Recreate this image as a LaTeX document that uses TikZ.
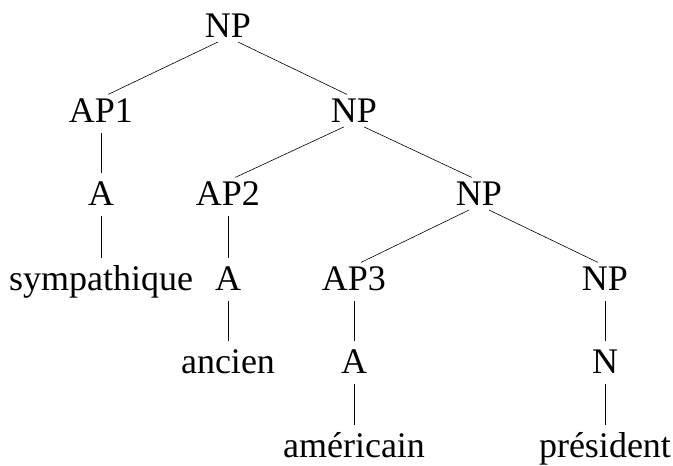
\documentclass[tikz,border=0pt]{standalone}
\usepackage{fontspec}
\setmainfont{Liberation Serif}
\usetikzlibrary{positioning}

\begin{document}
\begin{tikzpicture}[
    x=1pt, y=-1pt,
    cat/.style={anchor=base, inner sep=0pt, text height=24pt, text depth=0pt, font=\fontsize{36}{40}\selectfont},
    branch/.style={line width=0.6pt, shorten <=11pt, shorten >=8pt}
]
\useasboundingbox (0,0) rectangle (673,466);

% tree nodes, one row per level
\node[cat] (np0) at (228,37) {NP};
\node[cat] (ap1) at (101,122) {AP1};
\node[cat] (np1) at (354,122) {NP};
\node[cat] (a1) at (101,205) {A};
\node[cat] (ap2) at (228,205) {AP2};
\node[cat] (np2) at (479,205) {NP};
\node[cat] (sym) at (101,290) {sympathique};
\node[cat] (a2) at (228,290) {A};
\node[cat] (ap3) at (354,290) {AP3};
\node[cat] (np3) at (605,290) {NP};
\node[cat] (anc) at (228,373) {ancien};
\node[cat] (a3) at (354,373) {A};
\node[cat] (n) at (605,373) {N};
\node[cat] (ame) at (354,457) {américain};
\node[cat] (pre) at (605,457) {président};

\draw[branch] (np0.south) -- (ap1.north);
\draw[branch] (np0.south) -- (np1.north);
\draw[branch] (ap1.south) -- (a1.north);
\draw[branch] (np1.south) -- (ap2.north);
\draw[branch] (np1.south) -- (np2.north);
\draw[branch] (a1.south) -- (sym.north);
\draw[branch] (ap2.south) -- (a2.north);
\draw[branch] (np2.south) -- (ap3.north);
\draw[branch] (np2.south) -- (np3.north);
\draw[branch] (a2.south) -- (anc.north);
\draw[branch] (ap3.south) -- (a3.north);
\draw[branch] (np3.south) -- (n.north);
\draw[branch] (a3.south) -- (ame.north);
\draw[branch] (n.south) -- (pre.north);
\end{tikzpicture}
\end{document}
